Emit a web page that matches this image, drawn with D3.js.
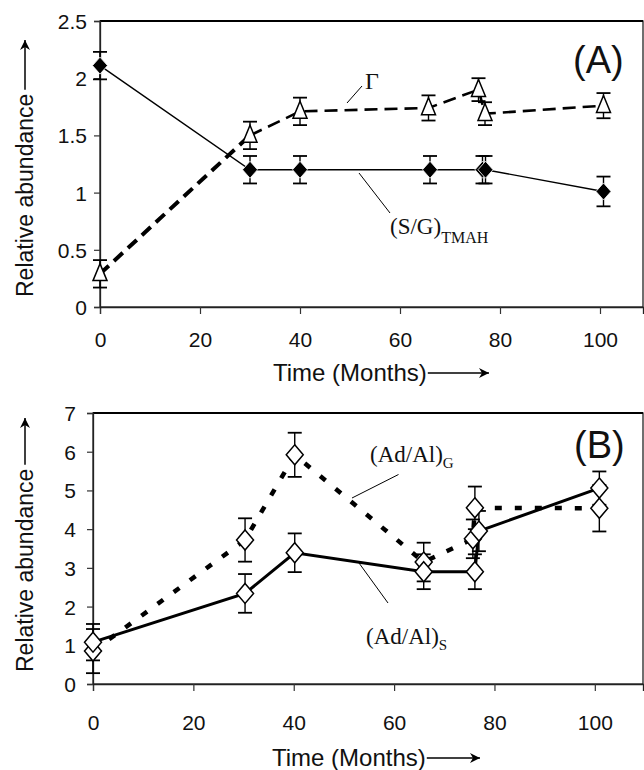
<!DOCTYPE html>
<html>
<head>
<meta charset="utf-8">
<script src="https://cdn.jsdelivr.net/npm/d3@7/dist/d3.min.js"></script>
<style>
  html, body { margin: 0; padding: 0; background: #fff; }
  svg { display: block; }
  .tick text { font-family: Arial, "Liberation Sans", sans-serif; font-size: 21px; fill: #111; }
</style>
</head>
<body>
<svg id="chart" width="644" height="770"></svg>
<script>
// ---------- DATA ----------
const xTicks = [0, 20, 40, 60, 80, 100];
const yTicksA = [0, 0.5, 1, 1.5, 2, 2.5];
const yTicksB = [0, 1, 2, 3, 4, 5, 6, 7];

// Panel A: (S/G)TMAH (filled diamonds, solid line)
const monthsSG = [0, 30, 40, 66, 76.5, 77.1, 100.7];
const sgValues = [2.11, 1.2, 1.2, 1.2, 1.2, 1.2, 1.01];
const sgErrors = [0.12, 0.12, 0.12, 0.12, 0.12, 0.12, 0.13];

// Panel A: Gamma (open triangles, dashed line)
const monthsGamma = [0, 30, 40, 65.7, 75.7, 77, 100.7];
const gammaValues = [0.29, 1.5, 1.71, 1.74, 1.9, 1.69, 1.76];
const gammaErrors = [0.12, 0.12, 0.12, 0.11, 0.1, 0.1, 0.11];

// Panel B: (Ad/Al)S (open diamonds, solid line)
const monthsS = [0, 30.3, 40.2, 65.9, 76.1, 76.9, 100.9];
const sValues = [1.08, 2.34, 3.39, 2.9, 2.9, 3.95, 5.06];
const sErrors = [0.47, 0.5, 0.5, 0.45, 0.45, 0.52, 0.43];

// Panel B: (Ad/Al)G (open diamonds, dashed line)
const monthsG = [0, 30.3, 40.2, 65.9, 75.7, 76.1, 100.9];
const gValues = [0.85, 3.72, 5.92, 3.15, 3.75, 4.55, 4.54];
const gErrors = [0.57, 0.56, 0.57, 0.5, 0.5, 0.55, 0.6];

const zip = (xs, ys, es) => xs.map((x, i) => ({x, y: ys[i], e: es[i]}));
const sgData = zip(monthsSG, sgValues, sgErrors);
const gammaData = zip(monthsGamma, gammaValues, gammaErrors);
const sData = zip(monthsS, sValues, sErrors);
const gData = zip(monthsG, gValues, gErrors);

// ---------- SETUP ----------
const svg = d3.select("#chart");
const SANS = 'Arial, "Liberation Sans", sans-serif';
const SERIF = '"Times New Roman", "Liberation Serif", serif';

const defs = svg.append("defs");
defs.append("marker").attr("id", "arrow")
  .attr("viewBox", "0 0 10 10").attr("refX", 10).attr("refY", 5)
  .attr("markerWidth", 14).attr("markerHeight", 10).attr("markerUnits", "userSpaceOnUse")
  .attr("orient", "auto")
  .append("path").attr("d", "M0,0 L10,5 L0,10 L3,5 Z").attr("fill", "#000");

function diamondPath(w, h) {
  return `M0,${-h/2} L${w/2},0 L0,${h/2} L${-w/2},0 Z`;
}
function trianglePath(w, h) {
  return `M0,${-h*0.6} L${w/2},${h*0.4} L${-w/2},${h*0.4} Z`;
}

function panel(opts) {
  const {x, y, yTicks, xLabelOffset, yPad, g} = opts;
  const [x0, x1] = x.range();
  const [y0, y1] = y.range();
  g.append("rect").attr("x", x0).attr("y", y1).attr("width", x1 - x0).attr("height", y0 - y1)
    .attr("fill", "none").attr("stroke", "#222").attr("stroke-width", 1.3);
  g.append("line").attr("x1", x0).attr("x2", x1).attr("y1", y1).attr("y2", y1)
    .attr("stroke", "#000").attr("stroke-width", 2);

  const xa = g.append("g").attr("transform", `translate(0,${y0})`)
    .call(d3.axisBottom(x).tickValues(xTicks).tickSize(7).tickFormat(d3.format("d")));
  xa.select(".domain").attr("stroke", "#222").attr("stroke-width", 1.3);
  xa.selectAll(".tick line").attr("stroke", "#333").attr("stroke-width", 1.2);
  xa.selectAll(".tick text").attr("y", xLabelOffset).attr("dy", 0);

  const ya = g.append("g").attr("transform", `translate(${x0},0)`)
    .call(d3.axisLeft(y).tickValues(yTicks).tickSize(6).tickPadding(yPad).tickFormat(d => String(d)));
  ya.select(".domain").attr("stroke", "#222").attr("stroke-width", 1.3);
  ya.selectAll(".tick line").attr("stroke", "#333").attr("stroke-width", 1.2);
  ya.selectAll(".tick text").attr("dy", "0.36em");
}

function errorBars(g, data, x, y, cap) {
  const eb = g.append("g").attr("stroke", "#000").attr("stroke-width", 1.4).attr("fill", "none");
  data.forEach(d => {
    const cx = x(d.x), yt = y(d.y + d.e), yb = y(d.y - d.e);
    eb.append("line").attr("x1", cx).attr("x2", cx).attr("y1", yt).attr("y2", yb);
    eb.append("line").attr("x1", cx - cap/2).attr("x2", cx + cap/2).attr("y1", yt).attr("y2", yt).attr("stroke-width", 1.8);
    eb.append("line").attr("x1", cx - cap/2).attr("x2", cx + cap/2).attr("y1", yb).attr("y2", yb).attr("stroke-width", 1.8);
  });
}

function yTitle(g, xBase, yStart, arrowTop) {
  g.append("text").attr("transform", `translate(${xBase},${yStart}) rotate(-90)`)
    .attr("font-family", SANS).attr("font-size", 23).attr("fill", "#111")
    .text("Relative abundance");
  const len = 8.838 * 23;
  g.append("line").attr("x1", xBase - 8).attr("x2", xBase - 8)
    .attr("y1", yStart - len - 4).attr("y2", arrowTop)
    .attr("stroke", "#000").attr("stroke-width", 1.5).attr("marker-end", "url(#arrow)");
}

function xTitle(g, xStart, yBase, arrowEnd) {
  const t = g.append("text").attr("x", xStart).attr("y", yBase)
    .attr("font-family", SANS).attr("font-size", 24).attr("fill", "#111")
    .text("Time (Months)");
  const w = t.node().getComputedTextLength();
  g.append("line").attr("x1", xStart + w + 1).attr("x2", arrowEnd)
    .attr("y1", yBase - 8).attr("y2", yBase - 8)
    .attr("stroke", "#000").attr("stroke-width", 1.5).attr("marker-end", "url(#arrow)");
}

function labelWithSub(g, x0, yb, main, sub, size, subSize, subDy) {
  const t = g.append("text").attr("x", x0).attr("y", yb)
    .attr("font-family", SERIF).attr("font-size", size).attr("fill", "#111");
  t.append("tspan").text(main);
  t.append("tspan").attr("font-size", subSize).attr("dy", subDy).text(sub);
}

// ---------- PANEL A ----------
const xA = d3.scaleLinear().domain([0, 108.6]).range([100, 643]);
const yA = d3.scaleLinear().domain([0, 2.5]).range([307, 21]);
const gA = svg.append("g");
panel({x: xA, y: yA, yTicks: yTicksA, xLabelOffset: 40, yPad: 7, g: gA});

const lineA = d3.line().x(d => xA(d.x)).y(d => yA(d.y));
gA.append("path").datum(gammaData.slice(0, 2)).attr("d", lineA)
  .attr("fill", "none").attr("stroke", "#000").attr("stroke-width", 4)
  .attr("stroke-dasharray", "12,7");
gA.append("path").datum(gammaData.slice(1)).attr("d", lineA)
  .attr("fill", "none").attr("stroke", "#000").attr("stroke-width", 2.6)
  .attr("stroke-dasharray", "13,7");
gA.append("path").datum(sgData).attr("d", lineA)
  .attr("fill", "none").attr("stroke", "#000").attr("stroke-width", 1.4);

errorBars(gA, sgData, xA, yA, 14);
errorBars(gA, gammaData, xA, yA, 14);

gA.append("g").selectAll("path").data(gammaData).join("path")
  .attr("transform", d => `translate(${xA(d.x)},${yA(d.y)})`)
  .attr("d", trianglePath(14, 17)).attr("fill", "#fff").attr("stroke", "#000").attr("stroke-width", 1.5);
gA.append("g").selectAll("path").data(sgData).join("path")
  .attr("transform", d => `translate(${xA(d.x)},${yA(d.y)})`)
  .attr("d", diamondPath(15, 17)).attr("fill", "#000").attr("stroke", "#fff").attr("stroke-width", 0.8);

gA.append("text").attr("x", 365).attr("y", 89).attr("font-family", SERIF).attr("font-size", 24)
  .attr("fill", "#111").text("Γ");
gA.append("line").attr("x1", 347).attr("y1", 103).attr("x2", 362).attr("y2", 86)
  .attr("stroke", "#000").attr("stroke-width", 1);
labelWithSub(gA, 390, 234, "(S/G)", "TMAH", 23, 16, 9);
gA.append("line").attr("x1", 359).attr("y1", 173).attr("x2", 390).attr("y2", 213)
  .attr("stroke", "#000").attr("stroke-width", 1);
gA.append("text").attr("x", 573).attr("y", 73).attr("font-family", SANS).attr("font-size", 38)
  .attr("fill", "#111").text("(A)");

yTitle(gA, 33, 297, 40);
xTitle(gA, 273, 381, 489);

// ---------- PANEL B ----------
const xB = d3.scaleLinear().domain([0, 109.6]).range([93, 643]);
const yB = d3.scaleLinear().domain([0, 7]).range([684, 413]);
const gB = svg.append("g");
panel({x: xB, y: yB, yTicks: yTicksB, xLabelOffset: 46, yPad: 11, g: gB});

const lineB = d3.line().x(d => xB(d.x)).y(d => yB(d.y));
gB.append("path").datum(gData).attr("d", lineB)
  .attr("fill", "none").attr("stroke", "#000").attr("stroke-width", 4.5)
  .attr("stroke-dasharray", "7,13");
gB.append("path").datum(sData).attr("d", lineB)
  .attr("fill", "none").attr("stroke", "#000").attr("stroke-width", 3);

errorBars(gB, sData, xB, yB, 14);
errorBars(gB, gData, xB, yB, 14);

gB.append("g").selectAll("path").data(gData).join("path")
  .attr("transform", d => `translate(${xB(d.x)},${yB(d.y)})`)
  .attr("d", diamondPath(17, 20)).attr("fill", "#fff").attr("stroke", "#000").attr("stroke-width", 1.5);
gB.append("g").selectAll("path").data(sData).join("path")
  .attr("transform", d => `translate(${xB(d.x)},${yB(d.y)})`)
  .attr("d", diamondPath(17, 20)).attr("fill", "#fff").attr("stroke", "#000").attr("stroke-width", 1.5);

labelWithSub(gB, 370, 462, "(Ad/Al)", "G", 23, 15, 6);
gB.append("line").attr("x1", 398.5).attr("y1", 474.5).attr("x2", 352).attr("y2", 498)
  .attr("stroke", "#000").attr("stroke-width", 1);
labelWithSub(gB, 366, 644, "(Ad/Al)", "S", 23, 15, 6);
gB.append("line").attr("x1", 359).attr("y1", 563).attr("x2", 388).attr("y2", 603)
  .attr("stroke", "#000").attr("stroke-width", 1);
gB.append("text").attr("x", 574).attr("y", 458).attr("font-family", SANS).attr("font-size", 38)
  .attr("fill", "#111").text("(B)");

yTitle(gB, 33, 672, 418);
xTitle(gB, 272, 766, 480);
</script>
</body>
</html>
